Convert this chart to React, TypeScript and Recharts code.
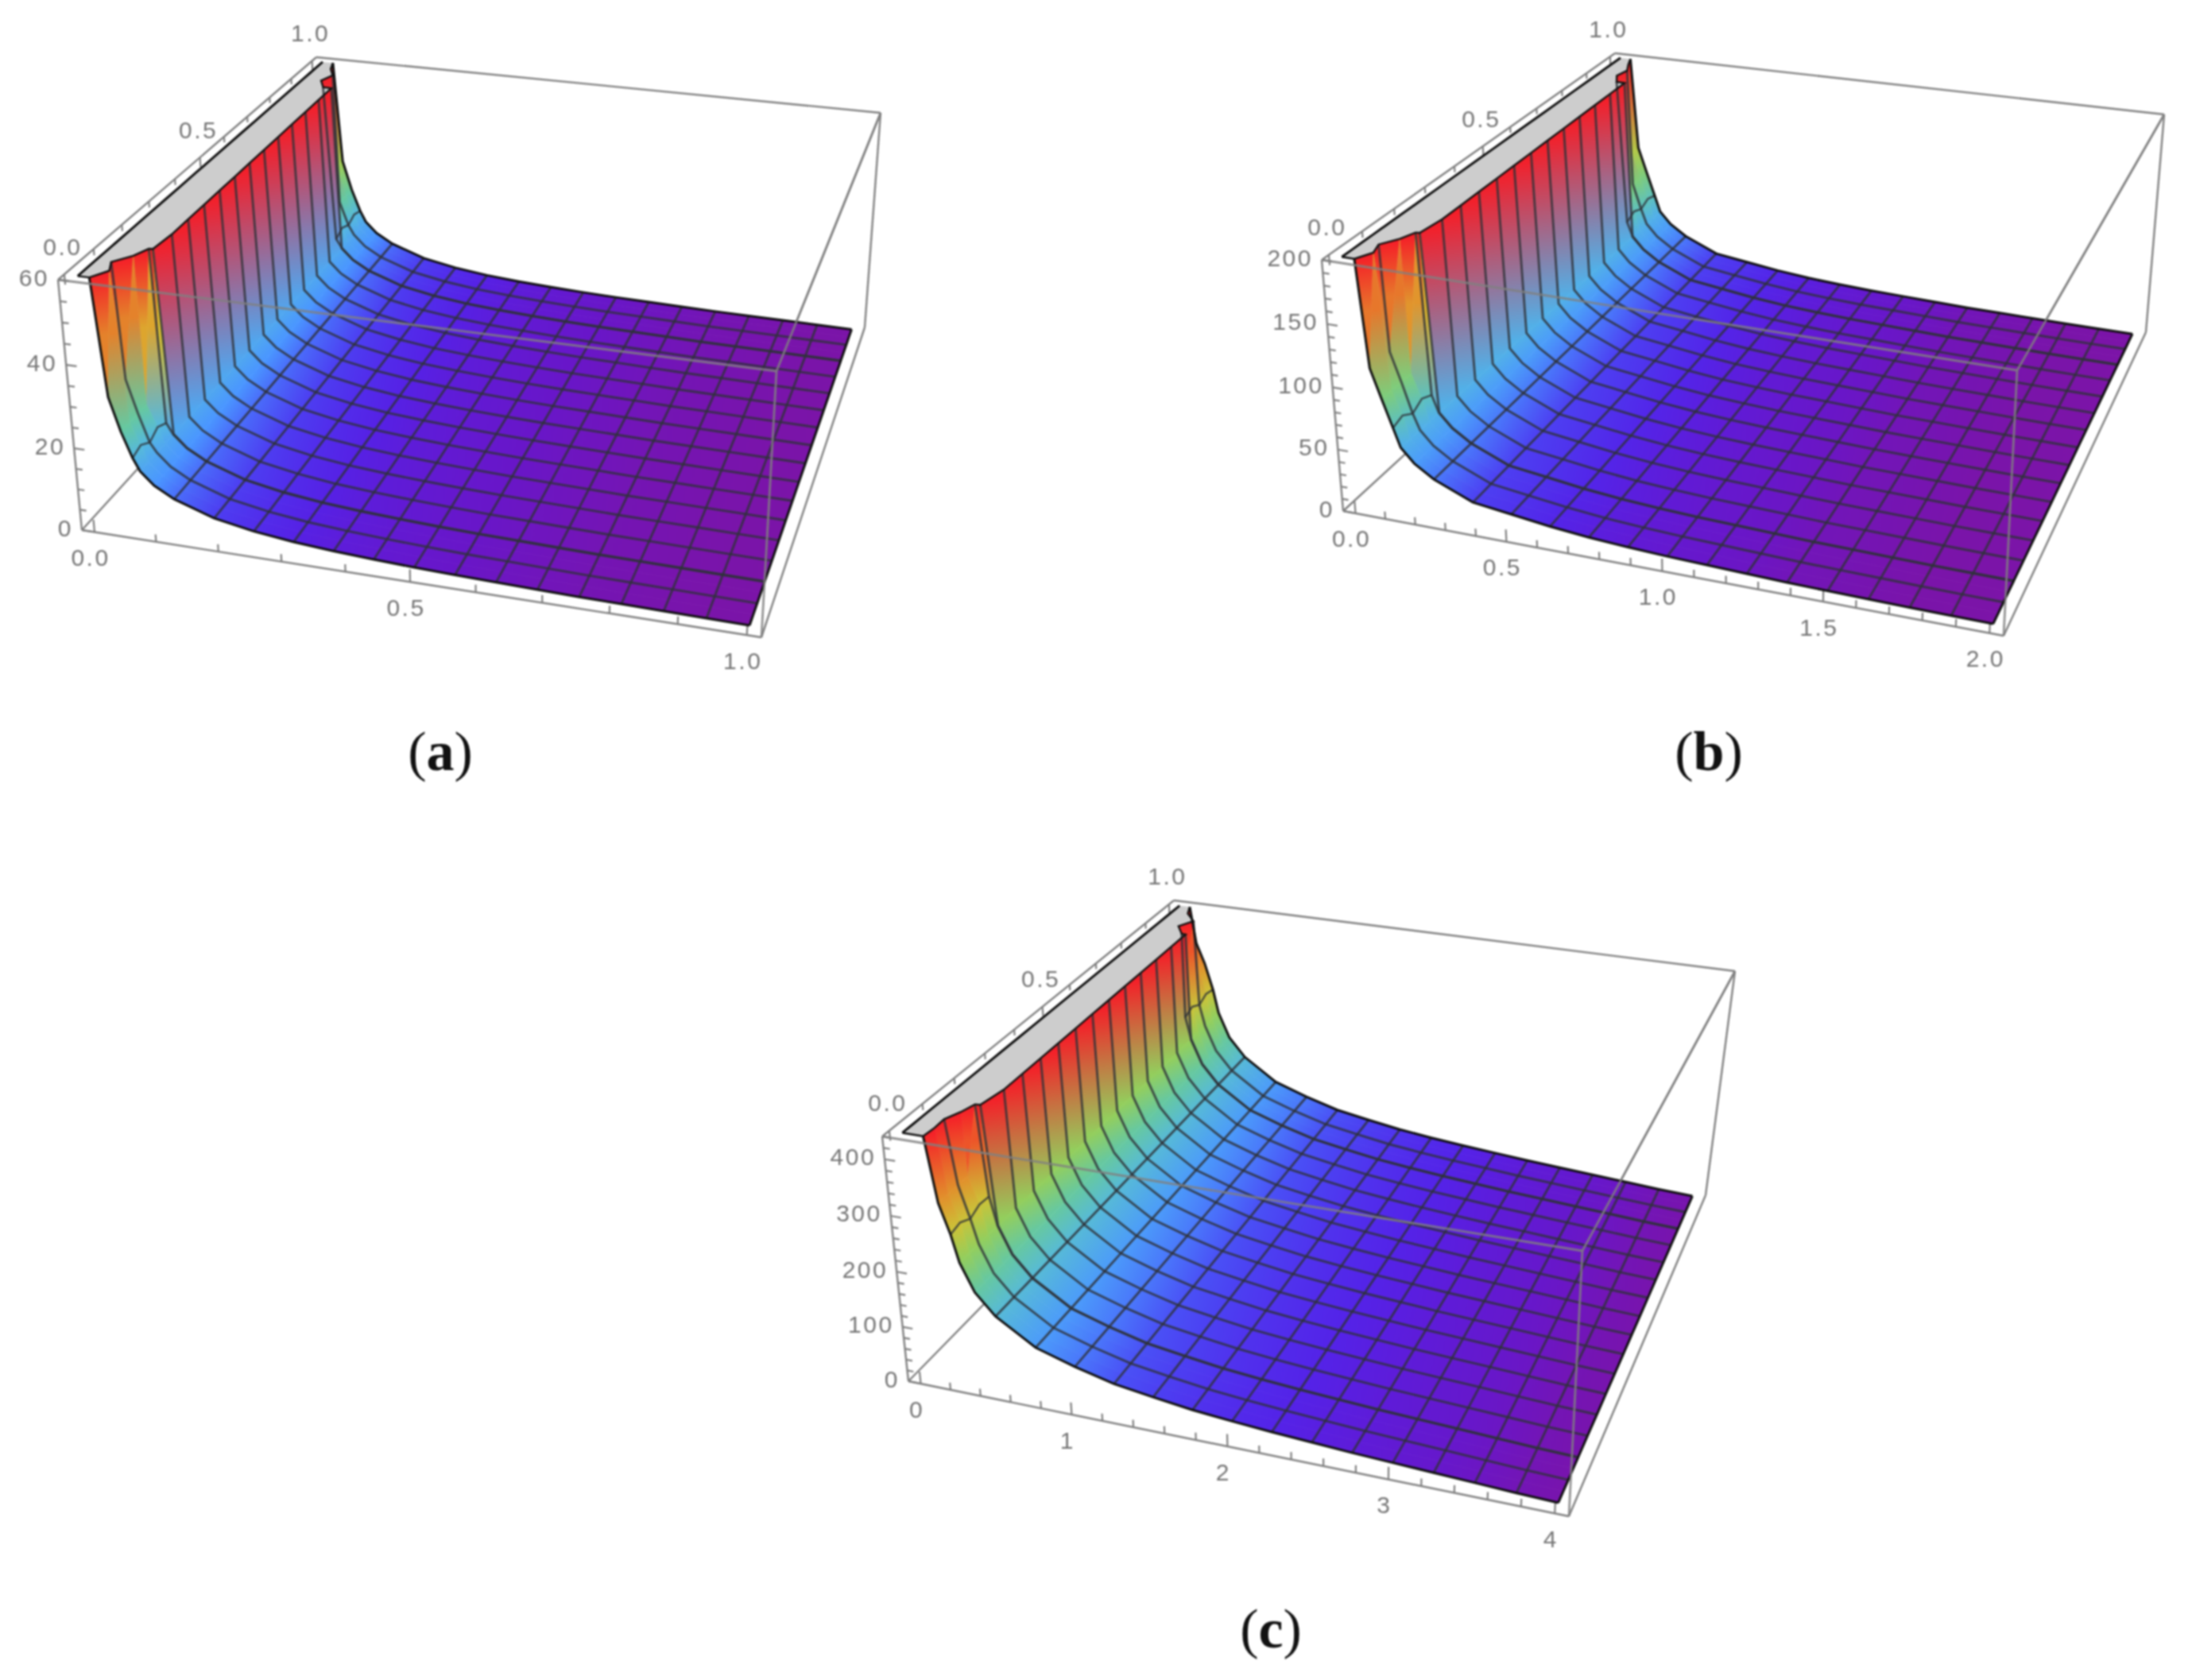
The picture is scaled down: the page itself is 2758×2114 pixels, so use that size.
import { Scatter, ScatterChart, XAxis, YAxis } from "recharts";

const WIDTH = 2758;
const HEIGHT = 2114;

// x sample positions as a fraction of each panel's x range
const xFractions = [
  0.03125, 0.047, 0.0625, 0.073, 0.094, 0.125, 0.1875, 0.25, 0.3125, 0.375, 0.4375,
  0.5, 0.5625, 0.625, 0.6875, 0.75, 0.8125, 0.875, 0.9375, 1,
];

// y rows in sixteenths of the y range
const rowSteps = [
  0, 0.5, 1, 1.5, 2, 2.02, 3, 4, 5, 6, 7, 8, 9, 10, 11, 12, 13, 13.98, 14, 14.5, 15, 15.5, 16,
];
const meshRows = [0, 1, 2, 2.02, 3, 4, 5, 6, 7, 8, 9, 10, 11, 12, 13, 13.98, 14, 15, 16];
const coarseRows = [2.02, 3, 4, 5, 6, 7, 8, 9, 10, 11, 12, 13, 13.98];
const kinkFraction = 0.073;

const heightA = [32, 24, 18, 15, 12, 9.4, 6.2, 4.5, 3.4, 2.7, 2.2, 1.8, 1.5, 1.3, 1.1, 0.9, 0.8, 0.7, 0.6, 0.5];
const heightB = [115, 92, 70, 55, 44, 34, 21, 17, 13, 10, 8, 6.5, 5.5, 4.5, 3.5, 3, 2.5, 2, 1.7, 1.5];
const heightC = [365, 325, 272, 224, 175, 138, 95, 74, 57, 47, 38, 32, 27, 23, 19, 16, 13, 10, 7, 5];

// where each row leaves the clipped top, as a fraction of x range
const capA = [0.018, 0.035, 0.024, 0.045, 0.056, 0.062, 0.066, 0.066, 0.066, 0.066, 0.066, 0.066, 0.066, 0.066, 0.066, 0.066, 0.066, 0.066, 0.05, 0.034, 0.044, 0.028, 0.02];
const capB = [0.02, 0.034, 0.026, 0.044, 0.054, 0.06, 0.066, 0.066, 0.066, 0.066, 0.066, 0.066, 0.066, 0.066, 0.066, 0.066, 0.066, 0.066, 0.05, 0.036, 0.042, 0.03, 0.02];
const capC = [0.033, 0.035, 0.034, 0.045, 0.052, 0.06, 0.068, 0.068, 0.068, 0.068, 0.068, 0.068, 0.068, 0.068, 0.068, 0.068, 0.068, 0.068, 0.06, 0.04, 0.055, 0.03, 0.02];

// wobble of the first mesh line on the finely sampled rows, fraction of z range
const jagA = [0, 0.015, -0.012, 0.014, -0.006, 0, 0, 0, 0, 0, 0, 0, 0, 0, 0, 0, 0, 0, -0.01, 0.012, -0.006, 0.014, 0];
const jagC = [0, 0.012, -0.01, 0.012, 0.008, 0, 0, 0, 0, 0, 0, 0, 0, 0, 0, 0, 0, 0, -0.008, 0.01, -0.012, 0.01, 0];

const ticksA = { x: [0, 0.5, 1], xMinor: 0.1, y: [0, 0.5, 1], z: [0, 20, 40, 60], zMinor: 5, zTop: 60 };
const ticksB = { x: [0, 0.5, 1, 1.5, 2], xMinor: 0.1, y: [0, 0.5, 1], z: [0, 50, 100, 150, 200], zMinor: 10, zTop: 200 };
const ticksC = { x: [0, 1, 2, 3, 4], xMinor: 0.2, y: [0, 0.5, 1], z: [0, 100, 200, 300, 400], zMinor: 20, zTop: 440 };

type Pt = [number, number];
type Corners = { c000: Pt; c100: Pt; c010: Pt; c110: Pt; c001: Pt; c101: Pt; c011: Pt; c111: Pt };

const boxA: Corners = { c000: [103, 667], c100: [958, 802], c010: [410, 330], c110: [1088, 412], c001: [73, 352], c101: [977, 467], c011: [398, 72], c111: [1108, 142] };
const boxB: Corners = { c000: [1690, 643], c100: [2521, 800], c010: [2040, 322], c110: [2700, 418], c001: [1663, 327], c101: [2538, 466], c011: [2032, 67], c111: [2723, 144] };
const boxC: Corners = { c000: [1143, 1738], c100: [1974, 1908], c010: [1485, 1389], c110: [2146, 1504], c001: [1110, 1430], c101: [1991, 1574], c011: [1477, 1133], c111: [2183, 1222] };

const panels = [
  { box: boxA, heights: heightA, cap: capA, jag: jagA, ticks: ticksA, xFmt: 1, caption: "a", captionAt: [554, 945] },
  { box: boxB, heights: heightB, cap: capB, jag: jagA, ticks: ticksB, xFmt: 1, caption: "b", captionAt: [2150, 945] },
  { box: boxC, heights: heightC, cap: capC, jag: jagC, ticks: ticksC, xFmt: 0, caption: "c", captionAt: [1599, 2049] },
];

const rainbow: [number, number[]][] = [
  [0, [128, 20, 160]],
  [0.01, [122, 20, 170]],
  [0.025, [105, 22, 200]],
  [0.06, [84, 34, 232]],
  [0.12, [74, 72, 245]],
  [0.2, [74, 150, 255]],
  [0.3, [85, 184, 224]],
  [0.4, [102, 200, 160]],
  [0.5, [143, 207, 96]],
  [0.65, [216, 192, 48]],
  [0.8, [232, 112, 42]],
  [1, [245, 30, 40]],
];

const colorAt = (t: number) => {
  const v = Math.max(0, Math.min(1, t));
  for (let i = 1; i < rainbow.length; i++) {
    if (v <= rainbow[i][0]) {
      const [t0, c0] = rainbow[i - 1];
      const [t1, c1] = rainbow[i];
      const k = (v - t0) / (t1 - t0);
      return c0.map((c, j) => c + (c1[j] - c) * k);
    }
  }
  return rainbow[rainbow.length - 1][1];
};
const rgb = (c: number[]) => `rgb(${c.map(Math.round).join(",")})`;

const PAD = 0.02;
const warp = (u: number, k: number) => u / (u + k * (1 - u));

// box coordinates 0..1 to the chart plane
const toPlane = (box: Corners, u: number, v: number, w: number): Pt => {
  const a = warp(u, 1.07);
  const b = warp(v, 0.82);
  const c = warp(w, 1.03);
  const mix = (i: 0 | 1) =>
    (1 - c) * ((1 - b) * ((1 - a) * box.c000[i] + a * box.c100[i]) + b * ((1 - a) * box.c010[i] + a * box.c110[i])) +
    c * ((1 - b) * ((1 - a) * box.c001[i] + a * box.c101[i]) + b * ((1 - a) * box.c011[i] + a * box.c111[i]));
  return [mix(0), mix(1)];
};

const inset = (f: number) => PAD + (1 - 2 * PAD) * f;
const xy = (p: Pt) => ({ px: p[0], py: p[1] });

type Panel = (typeof panels)[number];

const buildSurface = (panel: Panel) => {
  const zMax = panel.ticks.zTop;
  return rowSteps.map((step, r) => {
    const coarse = coarseRows.includes(step);
    const capX = panel.cap[r];
    const vertex = (fx: number, z: number) => ({
      p: toPlane(panel.box, inset(fx), inset(step / 16), z / zMax),
      t: z / zMax,
    });
    const cols = [vertex(capX, zMax)];
    xFractions.forEach((fx, c) => {
      if (fx <= capX || (coarse && fx < kinkFraction)) {
        cols.push(vertex(capX, zMax));
      } else {
        const jag = fx === 0.0625 ? panel.jag[r] * zMax : 0;
        cols.push(vertex(fx, Math.min(zMax, panel.heights[c] + jag)));
      }
    });
    return cols;
  });
};

const buildCells = (panel: Panel, surface: ReturnType<typeof buildSurface>, key: string) => {
  const cells: any[] = [];
  for (let r = surface.length - 2; r >= 0; r--) {
    for (let c = 0; c < surface[r].length - 1; c++) {
      const a = surface[r][c];
      const b = surface[r][c + 1];
      const d = surface[r + 1][c + 1];
      const e = surface[r + 1][c];
      const pts = [a.p, b.p, d.p, e.p];
      let area = 0;
      pts.forEach((p, i) => {
        const q = pts[(i + 1) % 4];
        area += p[0] * q[1] - q[0] * p[1];
      });
      if (Math.abs(area) < 1) continue;
      const cx = pts.reduce((s, p) => s + p[0], 0) / 4;
      const cy = pts.reduce((s, p) => s + p[1], 0) / 4;
      cells.push({
        px: cx,
        py: cy,
        id: `${key}-${r}-${c}`,
        pts: pts.map((p) => [p[0] - cx, p[1] - cy]),
        from: [(a.p[0] + e.p[0]) / 2 - cx, (a.p[1] + e.p[1]) / 2 - cy],
        to: [(b.p[0] + d.p[0]) / 2 - cx, (b.p[1] + d.p[1]) / 2 - cy],
        c0: rgb(colorAt((a.t + e.t) / 2)),
        c1: rgb(colorAt((b.t + d.t) / 2)),
      });
    }
  }
  return cells;
};

const CellShape = (props: any) => {
  const { cx, cy, payload: q } = props;
  const points = q.pts.map((p: number[]) => `${cx + p[0]},${cy + p[1]}`).join(" ");
  if (q.flat) return <polygon points={points} fill={q.flat} />;
  const url = `url(#${q.id})`;
  return (
    <g>
      <defs>
        <linearGradient id={q.id} gradientUnits="userSpaceOnUse" x1={cx + q.from[0]} y1={cy + q.from[1]} x2={cx + q.to[0]} y2={cy + q.to[1]}>
          <stop offset="0" stopColor={q.c0} />
          <stop offset="1" stopColor={q.c1} />
        </linearGradient>
      </defs>
      <polygon points={points} fill={url} stroke={url} strokeWidth={0.8} />
    </g>
  );
};

const TickShape = (props: any) => {
  const { cx, cy, payload: q } = props;
  return <line x1={cx} y1={cy} x2={cx + q.dx} y2={cy + q.dy} stroke="#7f7f7f" strokeWidth={2.2} />;
};

const LabelShape = (props: any) => {
  const { cx, cy, payload: q } = props;
  return (
    <text x={cx + q.dx} y={cy + q.dy} textAnchor={q.anchor} dominantBaseline="central" fontFamily="Liberation Sans" fontSize={q.size} letterSpacing={q.spacing} fontWeight={q.weight} fill={q.color}>
      {q.text}
    </text>
  );
};

const CaptionShape = (props: any) => {
  const { cx, cy, payload: q } = props;
  return (
    <text x={cx} y={cy} textAnchor="middle" dominantBaseline="central" fontFamily="Liberation Serif" fontSize={70} fill="#111">
      ({<tspan fontWeight="bold">{q.text}</tspan>})
    </text>
  );
};

const NoDot = () => <g />;

const polyline = (key: string, points: Pt[], stroke: string, strokeWidth: number, opacity = 1) => (
  <Scatter
    key={key}
    data={points.map(xy)}
    dataKey="py"
    isAnimationActive={false}
    shape={NoDot}
    fill="none"
    line={{ stroke, strokeWidth, strokeOpacity: opacity, fill: "none" }}
  />
);

const buildTicks = (panel: Panel) => {
  const { box, ticks } = panel;
  const xMax = ticks.x[ticks.x.length - 1];
  const zMax = ticks.zTop;
  const marks: any[] = [];
  const labels: any[] = [];
  const grow = (from: Pt, to: Pt) => ({ ...xy(from), dx: to[0] - from[0], dy: to[1] - from[1] });
  const on = (step: number, count: number, f: (v: number, major: boolean) => void, majors: number[]) => {
    for (let i = 0; i <= count; i++) {
      const v = i * step;
      f(v, majors.some((m) => Math.abs(m - v) < 1e-6));
    }
  };
  on(ticks.xMinor, Math.round(xMax / ticks.xMinor), (v, major) => {
    const u = inset(v / xMax);
    marks.push(grow(toPlane(box, u, 0, 0), toPlane(box, u, 0, major ? 0.05 : 0.03)));
  }, ticks.x);
  on(0.1, 10, (v, major) => {
    const t = inset(v);
    marks.push(grow(toPlane(box, 0, t, 1), toPlane(box, 0, t, major ? 0.96 : 0.975)));
  }, ticks.y);
  on(ticks.zMinor, Math.floor(zMax / ticks.zMinor), (v, major) => {
    const w = v / zMax;
    marks.push(grow(toPlane(box, 0, 0, w), toPlane(box, major ? 0.016 : 0.01, 0, w)));
  }, ticks.z);
  const tickText = { size: 30, spacing: 2.5, color: "#767676", weight: 400 };
  ticks.x.forEach((v) => {
    labels.push({ ...xy(toPlane(box, inset(v / xMax), 0, 0)), dx: -5, dy: 32, anchor: "middle", text: v.toFixed(panel.xFmt), ...tickText });
  });
  ticks.y.forEach((v) => {
    labels.push({ ...xy(toPlane(box, 0, inset(v), 1)), dx: -2, dy: -35, anchor: "middle", text: v.toFixed(1), ...tickText });
  });
  ticks.z.forEach((v) => {
    labels.push({ ...xy(toPlane(box, 0, 0, v / zMax)), dx: -11, dy: -3, anchor: "end", text: String(v), ...tickText });
  });
  return { marks, labels };
};

const MESH = "#2e3238";

const renderPanel = (panel: Panel, index: number) => {
  const key = `p${index}`;
  const { box } = panel;
  const surface = buildSurface(panel);
  const cells = buildCells(panel, surface, key);
  const { marks, labels } = buildTicks(panel);
  const lastCol = surface[0].length - 1;
  const lastRow = surface.length - 1;
  const edgeColor = "#808080";

  const backEdges: Pt[][] = [
    [box.c011, box.c111],
    [box.c001, box.c011],
    [box.c111, box.c110],
    [box.c101, box.c111],
    [box.c000, box.c010],
    [box.c110, box.c100],
    [box.c000, box.c100],
    [box.c000, box.c001],
  ];
  const frontEdges: Pt[][] = [
    [box.c001, box.c101],
    [box.c101, box.c100],
    [box.c101, box.c111],
  ];

  // the clipped top is flat and grey
  const capEdge = surface.map((row) => row[0].p);
  const capLine = rowSteps.map((step) => toPlane(box, inset(0), inset(step / 16), 1));
  const capPts = [...capLine, ...[...capEdge].reverse()];
  const capCx = capPts.reduce((s, p) => s + p[0], 0) / capPts.length;
  const capCy = capPts.reduce((s, p) => s + p[1], 0) / capPts.length;
  const capCell = [{ px: capCx, py: capCy, flat: "#cdcdcd", pts: capPts.map((p) => [p[0] - capCx, p[1] - capCy]) }];

  const series: any[] = [];
  backEdges.forEach((e, i) => series.push(polyline(`${key}-back-${i}`, e, edgeColor, 2.4)));
  series.push(<Scatter key={`${key}-ticks`} data={marks} dataKey="py" shape={TickShape} isAnimationActive={false} />);
  series.push(<Scatter key={`${key}-cells`} data={cells} dataKey="py" shape={CellShape} isAnimationActive={false} />);
  series.push(<Scatter key={`${key}-cap`} data={capCell} dataKey="py" shape={CellShape} isAnimationActive={false} />);

  rowSteps.forEach((step, r) => {
    if (!meshRows.includes(step) || r === 0 || r === lastRow) return;
    series.push(polyline(`${key}-row-${r}`, surface[r].map((v) => v.p), MESH, 2.9, 0.82));
  });
  xFractions.forEach((fx, c) => {
    if (Math.abs(fx * 16 - Math.round(fx * 16)) > 1e-6 || fx === 1) return;
    if (fx === 0.0625) {
      const front = surface.slice(0, 6).map((row) => row[c + 1].p);
      const back = surface.slice(17).map((row) => row[c + 1].p);
      series.push(polyline(`${key}-col-f`, front.slice(0, 5), MESH, 2.4, 0.82));
      series.push(polyline(`${key}-col-b`, back.slice(1), MESH, 2.4, 0.82));
      return;
    }
    series.push(polyline(`${key}-col-${c}`, surface.map((row) => row[c + 1].p), MESH, 2.9, 0.82));
  });

  series.push(polyline(`${key}-o0`, surface[0].map((v) => v.p), "#111", 3));
  series.push(polyline(`${key}-o1`, surface[lastRow].map((v) => v.p), "#111", 3));
  series.push(polyline(`${key}-o2`, surface.map((row) => row[lastCol].p), "#111", 3));
  series.push(polyline(`${key}-o3`, capEdge, "#111", 2.4));
  series.push(polyline(`${key}-o4`, capLine, "#111", 3));
  series.push(polyline(`${key}-o5`, [capLine[0], capEdge[0]], "#111", 2.4));

  frontEdges.forEach((e, i) => series.push(polyline(`${key}-front-${i}`, e, "#808080", 2.8, 0.85)));
  series.push(<Scatter key={`${key}-labels`} data={labels} dataKey="py" shape={LabelShape} isAnimationActive={false} />);
  series.push(
    <Scatter
      key={`${key}-caption`}
      data={[{ px: panel.captionAt[0], py: panel.captionAt[1], text: panel.caption }]}
      dataKey="py"
      shape={CaptionShape}
      isAnimationActive={false}
    />,
  );
  return series;
};

export default function App() {
  return (
    <div style={{ position: "absolute", left: 0, top: 0, width: WIDTH, height: HEIGHT, background: "#fff", filter: "blur(0.8px)" }}>
      <ScatterChart width={WIDTH} height={HEIGHT} margin={{ top: 0, right: 0, bottom: 0, left: 0 }}>
        <XAxis type="number" dataKey="px" domain={[0, WIDTH]} hide />
        <YAxis type="number" dataKey="py" domain={[0, HEIGHT]} reversed hide />
        {panels.map(renderPanel)}
      </ScatterChart>
    </div>
  );
}
